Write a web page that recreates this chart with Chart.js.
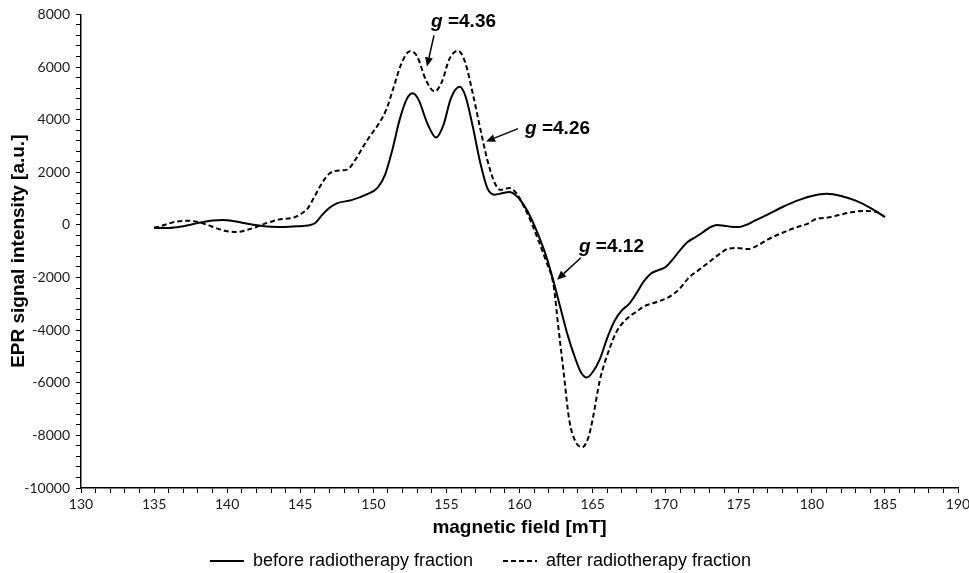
<!DOCTYPE html>
<html>
<head>
<meta charset="utf-8">
<script src="https://cdn.jsdelivr.net/npm/chart.js@4.4.1/dist/chart.umd.min.js"></script>
<style>
  html, body { margin: 0; padding: 0; background: #fff; }
  #wrap { width: 969px; height: 573px; position: relative; }
</style>
</head>
<body>
<div id="wrap"><canvas id="eprChart"></canvas></div>
<script>
// magnetic field [mT] and signal, before the fraction (solid)
var fieldBefore = [135, 136, 137, 138, 139, 139.7, 140.5, 141.5, 142.5, 143.5, 144.5, 145.5, 146, 146.5, 147, 147.5,
    148.5, 149.5, 150.3, 150.8, 151.3, 151.8, 152.3, 152.7, 153.1, 153.7, 154.3, 154.8, 155.3, 155.9, 156.3, 156.8,
    157.3, 157.8, 158.3, 158.8, 159.3, 159.8, 160.3, 160.8, 161.3, 161.8, 162.3, 162.8, 163.3, 163.8, 164.2, 164.6,
    165, 165.5, 166, 166.5, 167, 167.5, 168, 168.5, 169, 169.5, 170, 170.5, 171, 171.5, 172, 172.5, 173, 173.5,
    174, 174.5, 175, 175.5, 176, 177, 178, 179, 180, 181, 182, 183, 184, 185];
var signalBefore = [-110, -120, -50, 70, 170, 190, 140, 30, -50, -80, -60, -20, 60, 380, 650, 820,
    940, 1150, 1420, 1900, 2850, 4000, 4800, 5000, 4750, 3850, 3320, 3800, 4800, 5250, 4900, 3750,
    2400, 1400, 1150, 1200, 1250, 1100, 750, 250, -400, -1150, -2090, -3150, -4200, -5050, -5600, -5800,
    -5600, -5100, -4300, -3650, -3250, -3000, -2600, -2150, -1850, -1720, -1600, -1300, -950, -650, -480, -300, -100, 0,
    -30, -70, -80, 0, 130, 400, 680, 920, 1100, 1180, 1100, 920, 650, 300];

// after the fraction (dashed)
var fieldAfter = [135, 135.5, 136, 136.5, 137.3, 138, 138.5, 139, 139.5, 140, 140.7, 141.3, 142, 142.5, 143, 143.5,
    144.5, 145, 145.5, 146, 146.5, 147, 147.5, 148.2, 148.8, 149.3, 149.8, 150.4, 150.9, 151.4, 151.9, 152.5,
    153, 153.6, 154.2, 154.7, 155.2, 155.8, 156.3, 156.8, 157.3, 157.8, 158.3, 158.7, 159.3, 159.8, 160.3, 160.8,
    161.3, 161.8, 162.3, 162.45, 162.6, 163, 163.4, 163.8, 164.3, 164.7, 165, 165.5, 166.2, 166.6, 167.1, 167.6,
    168, 168.5, 169.4, 170.1, 170.6, 171, 171.6, 172.3, 173, 173.7, 174.3, 174.9, 175.6, 176.3, 177, 178,
    179, 179.7, 180.3, 181.1, 181.9, 182.7, 183.5, 184.4, 185];
var signalAfter = [-110, -40, 50, 120, 160, 110, 30, -70, -170, -240, -270, -200, -80, 30, 120, 200,
    270, 400, 620, 1100, 1600, 1950, 2060, 2100, 2500, 2970, 3400, 3870, 4400, 5250, 6100, 6600,
    6400, 5500, 5070, 5450, 6300, 6620, 6150, 5000, 3700, 2470, 1600, 1330, 1400, 1200, 700, 100,
    -600, -1350, -2200, -2800, -3600, -5500, -7400, -8200, -8450, -8100, -7400, -5900, -4640, -4100, -3700, -3450,
    -3300, -3100, -2930, -2780, -2600, -2400, -2000, -1700, -1400, -1100, -900, -880, -920, -780, -550, -300,
    -80, 40, 230, 280, 380, 480, 530, 500, 300];

var seriesNames = ["before radiotherapy fraction", "after radiotherapy fraction"];

// axis range
var xMin = 130, xMax = 190, xMajor = 5, xMinor = 1;
var yMin = -10000, yMax = 8000, yMajor = 2000, yMinor = 400;

// g-factor labels, placed in data units (text corner, arrow tail, arrow head)
var gLabels = [
    { value: "4.36", tx: 153.95, ty: 7540, ax: 154.15, ay: 7200, hx: 153.67, hy: 6020 },
    { value: "4.26", tx: 160.38, ty: 3470, ax: 159.9, ay: 3660, hx: 157.71, hy: 3170 },
    { value: "4.12", tx: 164.07, ty: -1020, ax: 164.2, ay: -1250, hx: 162.57, hy: -2085 }
];

function toPoints(xs, ys) {
    var pts = [];
    for (var i = 0; i < xs.length; i++) pts.push({ x: xs[i], y: ys[i] });
    return pts;
}

var gLabelPlugin = {
    id: 'gLabels',
    afterDatasetsDraw: function (chart) {
	var ctx = chart.ctx, xs = chart.scales.x, ys = chart.scales.y;
	ctx.save();
	ctx.fillStyle = '#000';
	ctx.strokeStyle = '#000';
	ctx.lineWidth = 1.5;
	gLabels.forEach(function (g) {
	    var tx = xs.getPixelForValue(g.tx), ty = ys.getPixelForValue(g.ty);
	    ctx.textBaseline = 'alphabetic';
	    ctx.textAlign = 'left';
	    ctx.font = 'italic bold 19px "Liberation Sans", Arial, sans-serif';
	    ctx.fillText('g', tx, ty);
	    var w = ctx.measureText('g').width;
	    ctx.font = 'bold 19px "Liberation Sans", Arial, sans-serif';
	    ctx.fillText(' =' + g.value, tx + w, ty);

	    // arrow
	    var x1 = xs.getPixelForValue(g.ax), y1 = ys.getPixelForValue(g.ay);
	    var x2 = xs.getPixelForValue(g.hx), y2 = ys.getPixelForValue(g.hy);
	    var ang = Math.atan2(y2 - y1, x2 - x1);
	    var len = 9, half = 4;
	    var bx = x2 - len * Math.cos(ang), by = y2 - len * Math.sin(ang);
	    ctx.beginPath();
	    ctx.moveTo(x1, y1);
	    ctx.lineTo(bx, by);
	    ctx.stroke();
	    ctx.beginPath();
	    ctx.moveTo(x2, y2);
	    ctx.lineTo(bx + half * Math.sin(ang), by - half * Math.cos(ang));
	    ctx.lineTo(bx - half * Math.sin(ang), by + half * Math.cos(ang));
	    ctx.closePath();
	    ctx.fill();
	});
	ctx.restore();
    }
};

// legend keeps a wide gap between its two items but a short box
var legendFitPlugin = {
    id: 'legendFit',
    beforeLayout: function (chart) {
	var lg = chart.legend;
	if (!lg || lg._fitWrapped) return;
	var fit = lg.fit;
	lg.fit = function () {
	    fit.call(this);
	    this.height = 51;
	};
	lg._fitWrapped = true;
    }
};

function drawChart() {
    var ctx = document.getElementById("eprChart");
    var chart = new Chart(ctx, {
	type : 'line',
	data : {
	    datasets : [ {
		label : seriesNames[0],
		data : toPoints(fieldBefore, signalBefore),
		borderColor : '#000',
		backgroundColor : '#000',
		borderWidth : 2,
		pointRadius : 0,
		cubicInterpolationMode : 'monotone'
	    }, {
		label : seriesNames[1],
		data : toPoints(fieldAfter, signalAfter),
		borderColor : '#000',
		backgroundColor : '#000',
		borderWidth : 2,
		borderDash : [ 5, 3 ],
		pointRadius : 0,
		cubicInterpolationMode : 'monotone'
	    } ]
	},
	options : {
	    responsive : true,
	    maintainAspectRatio : false,
	    animation : false,
	    layout : { padding : { left : 3, right : 11, top : 10, bottom : 0 } },
	    plugins : {
		tooltip : { enabled : false },
		legend : {
		    position : 'bottom',
		    labels : {
			usePointStyle : true,
			pointStyle : 'line',
			pointStyleWidth : 34,
			padding : 30,
			color : '#000',
			font : { family : '"Liberation Sans", Arial, sans-serif', size : 18 },
			// the point style loses the dataset dash, so put it back
			generateLabels : function (chart) {
			    var items = Chart.defaults.plugins.legend.labels.generateLabels(chart);
			    items.forEach(function (it) {
				var ds = chart.data.datasets[it.datasetIndex];
				it.lineDash = ds.borderDash || [];
				it.lineWidth = ds.borderWidth;
				it.strokeStyle = ds.borderColor;
				it.pointStyle = 'line';
			    });
			    return items;
			}
		    }
		}
	    },
	    scales : {
		x : {
		    type : 'linear',
		    min : xMin,
		    max : xMax,
		    afterFit : function (s) { s.height = 34; s.paddingRight = 0; },
		    ticks : {
			stepSize : xMinor,
			autoSkip : false,
			maxRotation : 0,
			padding : 3,
			color : '#1a1a1a',
			font : { family : 'Lato, "Open Sans", sans-serif', size : 14 },
			callback : function (v) { return v % xMajor === 0 ? String(v) : ''; }
		    },
		    grid : { drawOnChartArea : false, drawTicks : true, tickLength : 5, tickColor : '#000', tickWidth : 1 },
		    border : { display : true, color : '#000', width : 1.5 },
		    title : {
			display : true,
			text : 'magnetic field [mT]',
			color : '#000',
			padding : { top : 0, bottom : -17 },
			font : { family : '"Liberation Sans", Arial, sans-serif', size : 19, weight : 'bold' }
		    }
		},
		y : {
		    min : yMin,
		    max : yMax,
		    afterFit : function (s) { s.width = 78; },
		    ticks : {
			stepSize : yMinor,
			autoSkip : false,
			padding : 6,
			color : '#1a1a1a',
			font : { family : 'Lato, "Open Sans", sans-serif', size : 14 },
			callback : function (v) { return v % yMajor === 0 ? String(v) : ''; }
		    },
		    grid : { drawOnChartArea : false, drawTicks : true, tickLength : 5, tickColor : '#000', tickWidth : 1 },
		    border : { display : true, color : '#000', width : 1.5 },
		    title : {
			display : true,
			text : 'EPR signal intensity [a.u.]',
			color : '#000',
			padding : { top : 4, bottom : 0 },
			font : { family : '"Liberation Sans", Arial, sans-serif', size : 19, weight : 'bold' }
		    }
		}
	    }
	},
	plugins : [ legendFitPlugin, gLabelPlugin ]
    });
}

drawChart();
</script>
</body>
</html>
